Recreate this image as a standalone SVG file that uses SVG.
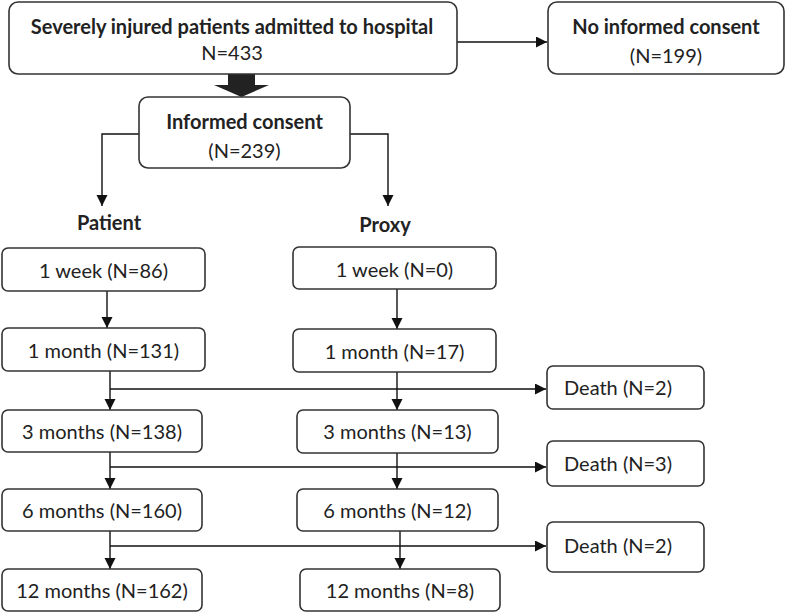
<svg xmlns="http://www.w3.org/2000/svg" width="787" height="613" viewBox="0 0 787 613">
<defs>
<marker id="ah" markerWidth="12" markerHeight="12" refX="11" refY="5.5" orient="auto" markerUnits="userSpaceOnUse">
<path d="M0,0 L11,5.5 L0,11 Z" fill="#111"/>
</marker>
<style>
.box{fill:#fff;stroke:#333;stroke-width:1.6}
.t{font-family:Lato,"Open Sans","Liberation Sans",sans-serif;font-size:20px;fill:#222;text-anchor:middle}
.b{font-weight:bold}
.l{text-anchor:start}
.c{fill:none;stroke:#111;stroke-width:1.4}
</style>
</defs>
<rect width="787" height="613" fill="#fff"/>
<g id="connectors">
<path class="c" d="M457,42 H547" marker-end="url(#ah)"/>
<path d="M228,74 H255 V85 H269 L241.5,97 L214,85 H228 Z" fill="#222"/>
<path class="c" d="M139,134 H102 V206" marker-end="url(#ah)"/>
<path class="c" d="M350,134 H388 V206" marker-end="url(#ah)"/>
<path class="c" d="M107,291 V328" marker-end="url(#ah)"/>
<path class="c" d="M397,289 V329" marker-end="url(#ah)"/>
<path class="c" d="M110,371 V410" marker-end="url(#ah)"/>
<path class="c" d="M397,372 V410" marker-end="url(#ah)"/>
<path class="c" d="M110,389 H546" marker-end="url(#ah)"/>
<path class="c" d="M110,452 V489" marker-end="url(#ah)"/>
<path class="c" d="M397,453 V489" marker-end="url(#ah)"/>
<path class="c" d="M110,467 H546" marker-end="url(#ah)"/>
<path class="c" d="M110,531 V569" marker-end="url(#ah)"/>
<path class="c" d="M400,531 V569" marker-end="url(#ah)"/>
<path class="c" d="M110,546 H546" marker-end="url(#ah)"/>
</g>
<g id="n-admitted"><rect class="box" x="9" y="2" width="448" height="72" rx="9"/>
<text class="t b" x="232" y="34">Severely injured patients admitted to hospital</text>
<text class="t" x="232" y="60">N=433</text></g>
<g id="n-noconsent"><rect class="box" x="548" y="2" width="236" height="72" rx="9"/>
<text class="t b" x="666" y="34">No informed consent</text>
<text class="t" x="666" y="63">(N=199)</text></g>
<g id="n-consent"><rect class="box" x="139" y="97" width="211" height="71" rx="9"/>
<text class="t b" x="244.5" y="129">Informed consent</text>
<text class="t" x="244.5" y="158">(N=239)</text></g>
<g id="n-patient"><text class="t b" x="109" y="230">Patient</text></g>
<g id="n-proxy"><text class="t b" x="385" y="232">Proxy</text></g>
<g id="p1"><rect class="box" x="2" y="248" width="203" height="43" rx="6"/><text class="t" x="103.5" y="278">1 week (N=86)</text></g>
<g id="p2"><rect class="box" x="2" y="328" width="203" height="43" rx="6"/><text class="t" x="103.5" y="358">1 month (N=131)</text></g>
<g id="p3"><rect class="box" x="2" y="410" width="200" height="42" rx="6"/><text class="t" x="102" y="439">3 months (N=138)</text></g>
<g id="p4"><rect class="box" x="2" y="489" width="200" height="42" rx="6"/><text class="t" x="102" y="518">6 months (N=160)</text></g>
<g id="p5"><rect class="box" x="2" y="569" width="200" height="42" rx="6"/><text class="t" x="102" y="598">12 months (N=162)</text></g>
<g id="x1"><rect class="box" x="293" y="247" width="203" height="42" rx="6"/><text class="t" x="394.5" y="277">1 week (N=0)</text></g>
<g id="x2"><rect class="box" x="293" y="329" width="203" height="43" rx="6"/><text class="t" x="394.5" y="359">1 month (N=17)</text></g>
<g id="x3"><rect class="box" x="297" y="410" width="201" height="43" rx="6"/><text class="t" x="397.5" y="439">3 months (N=13)</text></g>
<g id="x4"><rect class="box" x="297" y="489" width="201" height="42" rx="6"/><text class="t" x="397.5" y="518">6 months (N=12)</text></g>
<g id="x5"><rect class="box" x="300" y="569" width="200" height="42" rx="6"/><text class="t" x="400" y="598">12 months (N=8)</text></g>
<g id="d1"><rect class="box" x="547" y="366" width="157" height="43" rx="6"/><text class="t l" x="564" y="395">Death (N=2)</text></g>
<g id="d2"><rect class="box" x="547" y="441" width="157" height="45" rx="6"/><text class="t l" x="564" y="471">Death (N=3)</text></g>
<g id="d3"><rect class="box" x="547" y="522" width="157" height="50" rx="6"/><text class="t l" x="564" y="553">Death (N=2)</text></g>
</svg>
